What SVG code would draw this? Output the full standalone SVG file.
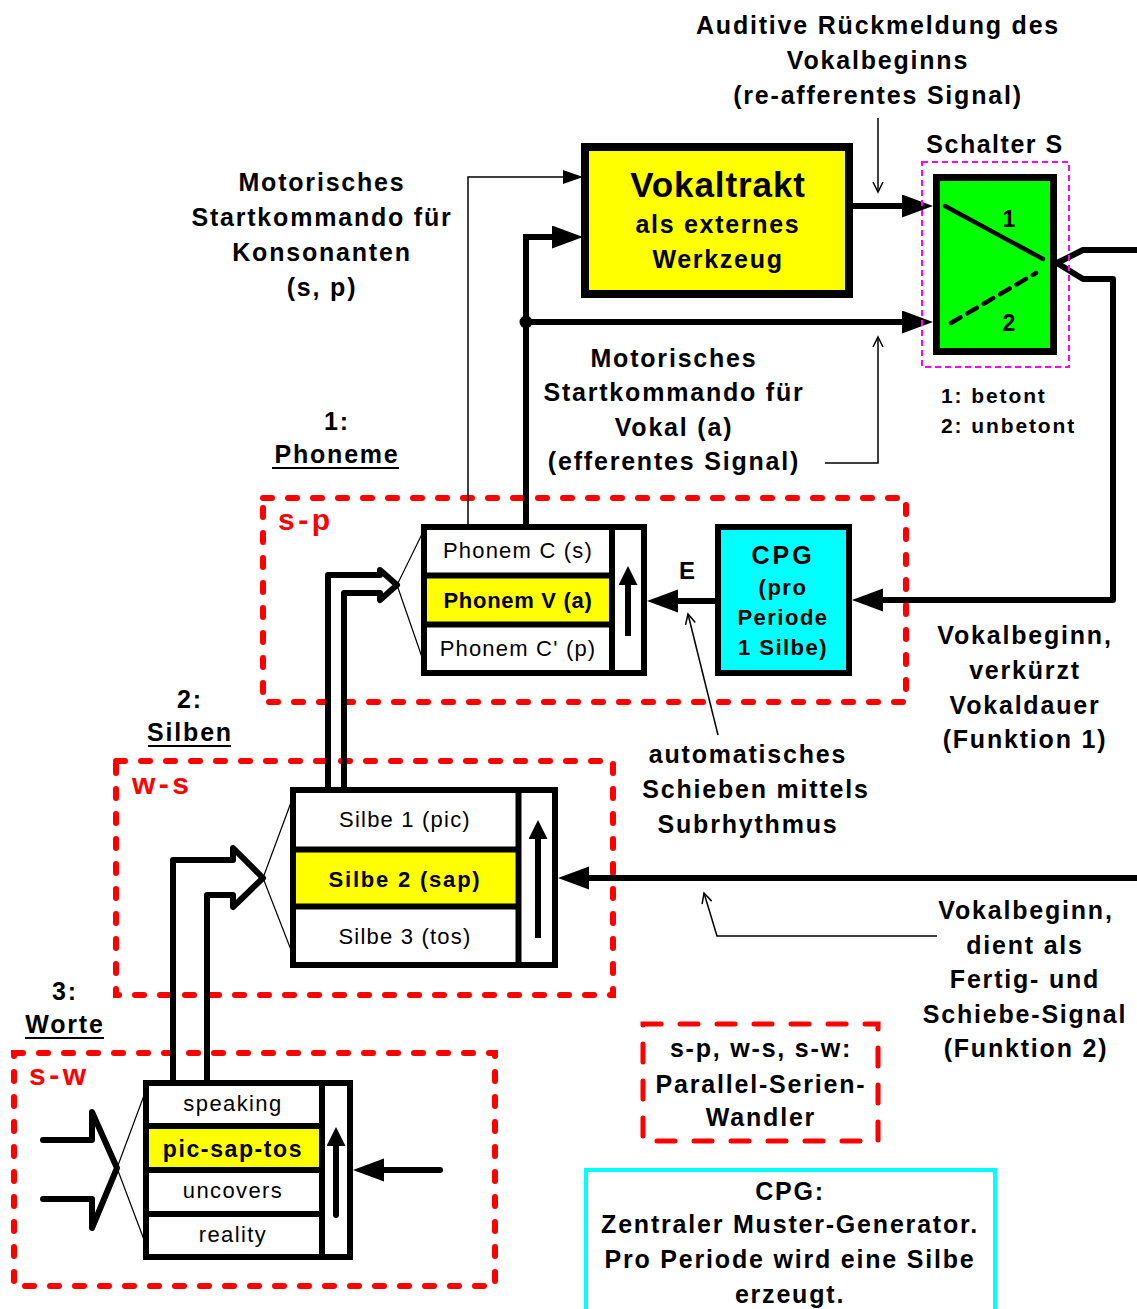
<svg xmlns="http://www.w3.org/2000/svg" width="1137" height="1309" viewBox="0 0 1137 1309">
<style>
text{font-family:"Liberation Sans",Arial,sans-serif;font-weight:bold;font-size:25px;letter-spacing:1.8px;text-anchor:middle;fill:#000}
.r{font-weight:normal;font-size:22px;letter-spacing:1.2px}
.b22{font-size:22px;letter-spacing:1.5px}
.red{fill:#ff0000;font-size:30px;letter-spacing:3.5px;text-anchor:start}
.sm{font-size:21px;letter-spacing:1.9px;text-anchor:start}
.box{stroke:#000;stroke-width:6}
.grp{fill:none;stroke:#ff0000;stroke-width:6;stroke-dasharray:9 16;stroke-linecap:round}
.thick{fill:none;stroke:#000;stroke-width:6}
.thin{fill:none;stroke:#000;stroke-width:1.5}
.fan{fill:none;stroke:#000;stroke-width:1.2}
.ul{stroke:#000;stroke-width:2}
</style>
<defs>
<marker id="big" markerUnits="userSpaceOnUse" markerWidth="32" markerHeight="24" refX="3" refY="11.5" orient="auto"><path d="M0,0 L31,11.5 L0,23 z" fill="#000"/></marker>
<marker id="tf" markerUnits="userSpaceOnUse" markerWidth="21" markerHeight="15" refX="2" refY="7" orient="auto"><path d="M0,0 L20,7 L0,14 z" fill="#000"/></marker>
<marker id="sm" markerUnits="userSpaceOnUse" markerWidth="20" markerHeight="20" refX="3" refY="9.5" orient="auto"><path d="M0,0 L19,9.5 L0,19 z" fill="#000"/></marker>
<marker id="open" markerUnits="userSpaceOnUse" markerWidth="12" markerHeight="12" refX="10" refY="5" orient="auto" overflow="visible"><path d="M0,0 L10,5 L0,10" fill="none" stroke="#000" stroke-width="1.5"/></marker>
</defs>
<rect width="1137" height="1309" fill="#fff"/>

<!-- group frames -->
<g id="frame-sp"><rect class="grp" x="263" y="498" width="643" height="204"/><text class="red" x="278" y="530">s-p</text></g>
<g id="frame-ws"><rect class="grp" x="116" y="761" width="497" height="234"/><text class="red" x="132" y="794">w-s</text></g>
<g id="frame-sw"><rect class="grp" x="14" y="1053" width="481" height="233"/><text class="red" x="29" y="1085">s-w</text></g>

<!-- connectors -->
<g id="connectors">
<path class="thin" d="M468,524 V177 H565" marker-end="url(#tf)"/>
<path class="thick" d="M526,524 V237 H555" marker-end="url(#big)"/>
<path class="thick" d="M526,322 H905" marker-end="url(#big)"/>
<circle cx="526" cy="322" r="6.5" fill="#000"/>
<path class="thick" d="M853,206 H905" marker-end="url(#big)"/>
<path class="thin" d="M878,118 V192" marker-end="url(#open)"/>
<path class="thin" d="M825,463 H878 V337" marker-end="url(#open)"/>
<path class="thick" stroke-linejoin="round" d="M1137,250 H1083 L1057,263 L1083,279 H1113 V600 H880" marker-end="url(#big)"/>
<path class="thick" d="M715,601 H675" marker-end="url(#big)"/>
<path class="thin" d="M718,735 L688,614" marker-end="url(#open)"/>
<path class="thick" d="M1137,878 H586" marker-end="url(#big)"/>
<path class="thin" d="M937,936 H717 L704,893" marker-end="url(#open)"/>
<path class="thick" stroke-linecap="round" d="M440,1170 H381" marker-end="url(#big)"/>
<path class="thick" stroke-linejoin="round" stroke-linecap="round" d="M43,1140 H92 V1112 L117,1168 L92,1228 V1199 H43"/>
<path class="thick" stroke-linejoin="round" stroke-linecap="round" d="M328,787 V575 H380 V570 L397,585 L380,600 V593 H344 V787"/>
<path class="thick" stroke-linejoin="round" stroke-linecap="round" d="M173,1080 V860 H233 V848 L263,878 L233,907 V895 H207 V1080"/>
<path class="fan" d="M424,530 L397,585 L424,663"/>
<path class="fan" d="M293,797 L263,878 L293,955"/>
<path class="fan" d="M146,1090 L117,1168 L146,1245"/>
</g>

<!-- Vokaltrakt -->
<g id="vokaltrakt">
<rect x="585" y="147" width="264" height="147" fill="#ffff00" stroke="#000" stroke-width="8"/>
<text x="718" y="197" style="font-size:35px;letter-spacing:0.9px">Vokaltrakt</text>
<text x="718" y="233" style="letter-spacing:1.7px">als externes</text>
<text x="718" y="268" style="letter-spacing:1.7px">Werkzeug</text>
</g>

<!-- Schalter S -->
<g id="schalter">
<text x="995" y="153" style="letter-spacing:1.5px">Schalter S</text>
<rect x="922" y="162" width="147" height="205" fill="none" stroke="#ff00ff" stroke-width="2" stroke-dasharray="6 4"/>
<rect x="936.5" y="177.5" width="117" height="174" fill="#00ff00" stroke="#000" stroke-width="7"/>
<line x1="945" y1="206" x2="1043" y2="259" stroke="#000" stroke-width="4.5" stroke-linecap="round"/>
<line x1="951" y1="323" x2="1036" y2="273" stroke="#000" stroke-width="4.5" stroke-dasharray="11 8" stroke-linecap="round"/>
<text x="1009" y="227" style="font-size:23px;letter-spacing:0">1</text>
<text x="1009" y="331" style="font-size:23px;letter-spacing:0">2</text>
<text class="sm" x="941" y="403">1: betont</text>
<text class="sm" x="941" y="433">2: unbetont</text>
</g>

<!-- Phonem register -->
<g id="phonem-register">
<rect x="424" y="527" width="220" height="146" fill="#fff" class="box"/>
<rect x="427" y="578" width="182" height="44" fill="#ffff00"/>
<path class="thick" d="M424,575.5 H612 M424,624.5 H612 M612,527 V673"/>
<path class="thick" stroke-width="5" d="M628,636 V582" marker-end="url(#sm)"/>
<text class="r" x="518" y="558">Phonem C (s)</text>
<text class="b22" x="518" y="608" style="letter-spacing:0.7px">Phonem V (a)</text>
<text class="r" x="518" y="656">Phonem C' (p)</text>
</g>

<!-- CPG -->
<g id="cpg">
<rect x="718" y="527" width="131" height="146" fill="#00ffff" class="box"/>
<text x="783" y="564" style="letter-spacing:3px">CPG</text>
<text x="783" y="595" class="b22">(pro</text>
<text x="783" y="625" class="b22">Periode</text>
<text x="783" y="655" class="b22">1 Silbe)</text>
<text x="687" y="579" style="font-size:24px;letter-spacing:0">E</text>
</g>

<!-- Silben register -->
<g id="silben-register">
<rect x="293" y="790" width="262" height="175" fill="#fff" class="box"/>
<rect x="296" y="852" width="219.5" height="52" fill="#ffff00"/>
<path class="thick" d="M293,849.5 H518.5 M293,906.5 H518.5 M518.5,790 V965"/>
<path class="thick" stroke-width="5" d="M538,938 V836" marker-end="url(#sm)"/>
<text class="r" x="405" y="827">Silbe 1 (pic)</text>
<text class="b22" x="405" y="887" style="letter-spacing:1.8px">Silbe 2 (sap)</text>
<text class="r" x="405" y="944">Silbe 3 (tos)</text>
</g>

<!-- Worte register -->
<g id="worte-register">
<rect x="146" y="1083" width="204" height="174" fill="#fff" class="box"/>
<rect x="149" y="1129" width="170" height="38" fill="#ffff00"/>
<path class="thick" d="M146,1126 H322 M146,1170 H322 M146,1214 H322 M322,1083 V1257"/>
<path class="thick" stroke-width="5" stroke-linecap="round" d="M336,1215 V1143" marker-end="url(#sm)"/>
<text class="r" x="233" y="1111" style="letter-spacing:1.4px">speaking</text>
<text x="233" y="1157" style="font-size:23px;letter-spacing:1.6px">pic-sap-tos</text>
<text class="r" x="233" y="1198" style="letter-spacing:1.4px">uncovers</text>
<text class="r" x="233" y="1242" style="letter-spacing:1.4px">reality</text>
</g>

<!-- labels -->
<g id="labels">
<text x="878" y="34">Auditive Rückmeldung des</text>
<text x="878" y="69">Vokalbeginns</text>
<text x="878" y="104">(re-afferentes Signal)</text>
<text x="322" y="191">Motorisches</text>
<text x="322" y="226">Startkommando für</text>
<text x="322" y="261">Konsonanten</text>
<text x="322" y="296">(s, p)</text>
<text x="674" y="367">Motorisches</text>
<text x="674" y="401">Startkommando für</text>
<text x="674" y="436">Vokal (a)</text>
<text x="674" y="470">(efferentes Signal)</text>
<text x="337" y="430">1:</text>
<text x="337" y="463">Phoneme</text>
<line class="ul" x1="272" y1="468" x2="399" y2="468"/>
<text x="190" y="708">2:</text>
<text x="190" y="741">Silben</text>
<line class="ul" x1="148" y1="746" x2="231" y2="746"/>
<text x="65" y="1000">3:</text>
<text x="65" y="1033">Worte</text>
<line class="ul" x1="25" y1="1038" x2="104" y2="1038"/>
<text x="748" y="763">automatisches</text>
<text x="756" y="798">Schieben mittels</text>
<text x="748" y="833">Subrhythmus</text>
<text x="1025" y="644">Vokalbeginn,</text>
<text x="1025" y="679">verkürzt</text>
<text x="1025" y="714">Vokaldauer</text>
<text x="1025" y="748">(Funktion 1)</text>
<text x="1026" y="919">Vokalbeginn,</text>
<text x="1025" y="954">dient als</text>
<text x="1025" y="988">Fertig- und</text>
<text x="1025" y="1023">Schiebe-Signal</text>
<text x="1026" y="1057">(Funktion 2)</text>
</g>

<!-- legends -->
<g id="legend-psw">
<rect x="643" y="1024" width="235" height="117" fill="none" stroke="#ff0000" stroke-width="5" stroke-dasharray="18 19" stroke-linecap="round"/>
<text x="761" y="1057">s-p, w-s, s-w:</text>
<text x="761" y="1093">Parallel-Serien-</text>
<text x="761" y="1126">Wandler</text>
</g>
<g id="legend-cpg">
<rect x="586" y="1170" width="409" height="160" fill="none" stroke="#00ffff" stroke-width="4"/>
<text x="790" y="1200">CPG:</text>
<text x="790" y="1233">Zentraler Muster-Generator.</text>
<text x="790" y="1268">Pro Periode wird eine Silbe</text>
<text x="790" y="1303">erzeugt.</text>
</g>
</svg>
